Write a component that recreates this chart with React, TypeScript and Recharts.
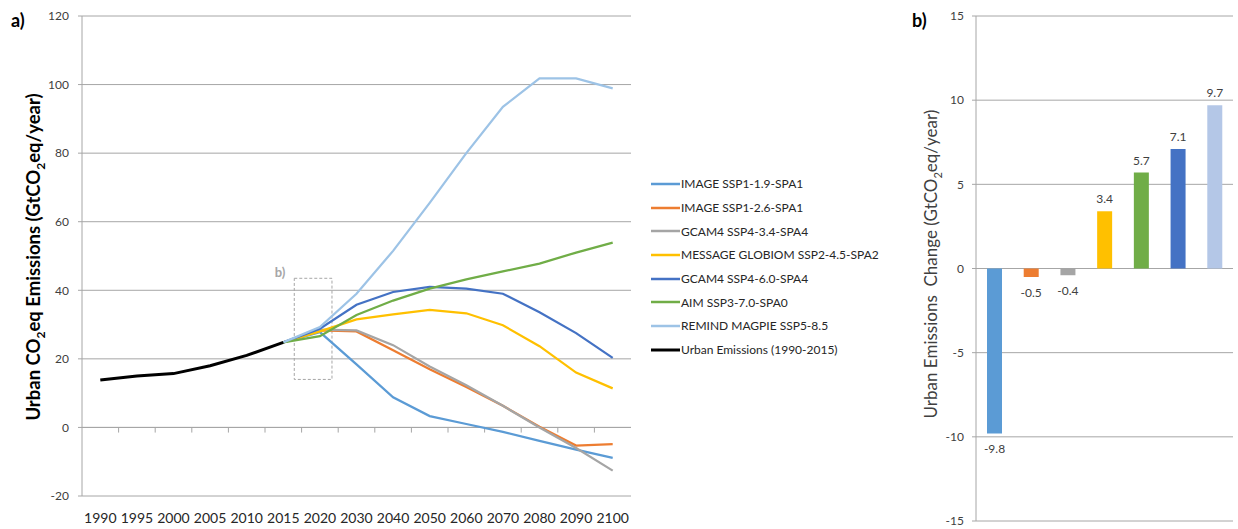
import React from "react";
import {
  LineChart,
  Line,
  BarChart,
  Bar,
  Cell,
  LabelList,
  XAxis,
  YAxis,
  CartesianGrid,
  ReferenceLine,
  ReferenceArea,
} from "recharts";

// ---- panel a: urban emissions pathways (GtCO2eq/year) ----
const years = [
  "1990", "1995", "2000", "2005", "2010", "2015", "2020",
  "2030", "2040", "2050", "2060", "2070", "2080", "2090", "2100",
];
const urbanHistory = [13.8, 15.0, 15.7, 18.0, 21.0, 24.8, null, null, null, null, null, null, null, null, null];
const ssp119 = [null, null, null, null, null, 24.8, 27.8, 18.4, 8.8, 3.3, 1.0, -1.3, -3.9, -6.5, -8.9];
const ssp126 = [null, null, null, null, null, 24.8, 28.3, 28.0, 22.5, 17.0, 11.8, 6.3, 0.2, -5.3, -4.9];
const ssp434 = [null, null, null, null, null, 24.8, 28.5, 28.3, 24.0, 17.8, 12.3, 6.3, 0.0, -6.0, -12.6];
const ssp245 = [null, null, null, null, null, 24.8, 28.0, 31.5, 33.0, 34.3, 33.3, 29.8, 23.7, 16.0, 11.4];
const ssp460 = [null, null, null, null, null, 24.8, 28.8, 35.8, 39.5, 41.0, 40.5, 39.0, 33.6, 27.5, 20.3];
const ssp370 = [null, null, null, null, null, 24.8, 26.6, 32.8, 37.0, 40.5, 43.2, 45.5, 47.8, 51.0, 53.9];
const ssp585 = [null, null, null, null, null, 24.8, 29.3, 39.0, 51.5, 65.5, 80.0, 93.5, 101.8, 101.8, 98.9];

const scenarioNames = [
  "IMAGE SSP1-1.9-SPA1",
  "IMAGE SSP1-2.6-SPA1",
  "GCAM4 SSP4-3.4-SPA4",
  "MESSAGE GLOBIOM SSP2-4.5-SPA2",
  "GCAM4 SSP4-6.0-SPA4",
  "AIM SSP3-7.0-SPA0",
  "REMIND MAGPIE SSP5-8.5",
];
const historyName = "Urban Emissions (1990-2015)";
const emissionTicks = [-20, 0, 20, 40, 60, 80, 100, 120];

// ---- panel b: change in urban emissions ----
const changeScenarios = ["SSP1-1.9", "SSP1-2.6", "SSP4-3.4", "SSP2-4.5", "SSP3-7.0", "SSP4-6.0", "SSP5-8.5"];
const changeValues = [-9.8, -0.5, -0.4, 3.4, 5.7, 7.1, 9.7];
const changeTicks = [-15, -10, -5, 0, 5, 10, 15];

const FONT = "Lato, 'Open Sans', sans-serif";
const GRID = "#a6a6a6";
const EDGE = "#d0d0d0";
const TICK_TEXT = "#404040";

const scenarios = [
  { key: "ssp119", name: scenarioNames[0], color: "#5B9BD5", values: ssp119 },
  { key: "ssp126", name: scenarioNames[1], color: "#ED7D31", values: ssp126 },
  { key: "ssp434", name: scenarioNames[2], color: "#A5A5A5", values: ssp434 },
  { key: "ssp245", name: scenarioNames[3], color: "#FFC000", values: ssp245 },
  { key: "ssp460", name: scenarioNames[4], color: "#4472C4", values: ssp460 },
  { key: "ssp370", name: scenarioNames[5], color: "#70AD47", values: ssp370 },
  { key: "ssp585", name: scenarioNames[6], color: "#9DC3E6", values: ssp585 },
];

const lineRows = years.map((year, i) => {
  const row: Record<string, any> = { idx: i, year, history: urbanHistory[i] };
  scenarios.forEach((s) => (row[s.key] = s.values[i]));
  return row;
});

const barColors = ["#5B9BD5", "#ED7D31", "#A5A5A5", "#FFC000", "#70AD47", "#4472C4", "#B4C7E7"];
const barRows = changeScenarios.map((scenario, i) => ({
  scenario,
  change: changeValues[i],
  color: barColors[i],
}));

const yearIdx = years.map((_, i) => i);
// category boundaries where the little marks sit on the zero line
const boundaries = years.slice(1).map((_, i) => i + 0.5);

function RotatedTitle({ x, y, bold, size, color, children }: any) {
  return (
    <div
      style={{
        position: "absolute",
        left: x,
        top: y,
        transform: "translate(-50%, -50%) rotate(-90deg)",
        whiteSpace: "nowrap",
        fontFamily: FONT,
        fontSize: size,
        fontWeight: bold ? 700 : 400,
        color,
      }}
    >
      {children}
    </div>
  );
}

function BarValueLabel(props: any) {
  const { x, y, width, height, value } = props;
  const v = Number(value);
  const top = Math.min(Number(y), Number(y) + Number(height));
  const bottom = Math.max(Number(y), Number(y) + Number(height));
  return (
    <text
      x={Number(x) + Number(width) / 2}
      y={v >= 0 ? top - 8 : bottom + 20}
      textAnchor="middle"
      fontSize={12}
      fontFamily={FONT}
      fill="#404040"
    >
      {v.toFixed(1)}
    </text>
  );
}

function Legend() {
  const items = [
    ...scenarios.map((s) => ({ name: s.name, color: s.color, w: 2.5 })),
    { name: historyName, color: "#000000", w: 3 },
  ];
  return (
    <div style={{ position: "absolute", left: 651, top: 172, fontFamily: FONT }}>
      {items.map((it) => (
        <div key={it.name} style={{ display: "flex", alignItems: "center", height: 23.7 }}>
          <svg width={29} height={6} style={{ display: "block" }}>
            <line x1={0} x2={29} y1={3} y2={3} stroke={it.color} strokeWidth={it.w} />
          </svg>
          <span style={{ fontSize: 12, color: "#262626", marginLeft: 1 }}>{it.name}</span>
        </div>
      ))}
    </div>
  );
}

function PathwaysChart() {
  return (
    <LineChart
      width={640}
      height={529}
      data={lineRows}
      margin={{ top: 16, right: 9, bottom: 0, left: 0 }}
    >
      <CartesianGrid vertical={false} stroke={GRID} yAxisId="v" />
      <XAxis
        type="number"
        dataKey="idx"
        domain={[-0.5, 14.5]}
        ticks={yearIdx}
        interval={0}
        tickFormatter={(i: number) => years[i] ?? ""}
        height={33}
        axisLine={false}
        tickLine={false}
        tickSize={6}
        tickMargin={11}
        tick={{ fontSize: 14, fill: "#262626", fontFamily: FONT }}
      />
      <YAxis
        yAxisId="v"
        domain={[-20, 120]}
        ticks={emissionTicks}
        interval={0}
        width={82}
        tickSize={4}
        tickMargin={9}
        axisLine={{ stroke: GRID }}
        tickLine={{ stroke: GRID }}
        tick={{ fontSize: 12, fill: TICK_TEXT, fontFamily: FONT }}
      />
      <YAxis
        yAxisId="edge"
        orientation="right"
        domain={[-20, 120]}
        width={0}
        tick={false}
        tickLine={false}
        axisLine={{ stroke: EDGE }}
      />
      <ReferenceLine yAxisId="v" y={0} stroke={GRID} />
      {boundaries.map((b) => (
        <ReferenceLine
          key={b}
          yAxisId="v"
          segment={[
            { x: b, y: 0 },
            { x: b, y: -1.5 },
          ]}
          stroke={GRID}
        />
      ))}
      <ReferenceArea
        yAxisId="v"
        x1={5.3}
        x2={6.33}
        y1={14}
        y2={43.5}
        fill="none"
        stroke="#a6a6a6"
        strokeDasharray="3 2"
        label={(p: any) => (
          <text
            x={p.viewBox.x - 9}
            y={p.viewBox.y - 1}
            textAnchor="end"
            fontSize={13}
            fontWeight={700}
            fontFamily={FONT}
            fill="#a6a6a6"
          >
            b)
          </text>
        )}
      />
      {scenarios.map((s) => (
        <Line
          key={s.key}
          yAxisId="v"
          type="linear"
          dataKey={s.key}
          name={s.name}
          stroke={s.color}
          strokeWidth={2.25}
          dot={false}
          isAnimationActive={false}
        />
      ))}
      <Line
        yAxisId="v"
        type="linear"
        dataKey="history"
        name={historyName}
        stroke="#000000"
        strokeWidth={3}
        dot={false}
        isAnimationActive={false}
      />
    </LineChart>
  );
}

function ChangeChart() {
  return (
    <BarChart
      width={338}
      height={529}
      data={barRows}
      margin={{ top: 16, right: 5, bottom: 8, left: 0 }}
      barSize={15}
    >
      <CartesianGrid vertical={false} stroke={GRID} yAxisId="v" />
      <XAxis dataKey="scenario" hide />
      <YAxis
        yAxisId="v"
        domain={[-15, 15]}
        ticks={changeTicks}
        interval={0}
        width={76}
        tickSize={4}
        tickMargin={8}
        axisLine={{ stroke: GRID }}
        tickLine={{ stroke: GRID }}
        tick={{ fontSize: 12, fill: TICK_TEXT, fontFamily: FONT }}
      />
      <YAxis
        yAxisId="edge"
        orientation="right"
        domain={[-15, 15]}
        width={0}
        tick={false}
        tickLine={false}
        axisLine={{ stroke: EDGE }}
      />
      <Bar yAxisId="v" dataKey="change" isAnimationActive={false}>
        {barRows.map((r) => (
          <Cell key={r.scenario} fill={r.color} />
        ))}
        <LabelList dataKey="change" content={BarValueLabel} />
      </Bar>
    </BarChart>
  );
}

export default function App() {
  return (
    <div
      style={{
        position: "absolute",
        left: 0,
        top: 0,
        width: 1238,
        height: 529,
        background: "#ffffff",
        overflow: "hidden",
        fontFamily: FONT,
      }}
    >
      <div style={{ position: "absolute", left: 0, top: 0 }}>
        <PathwaysChart />
      </div>
      <div style={{ position: "absolute", left: 900, top: 0 }}>
        <ChangeChart />
      </div>
      <Legend />

      <div style={{ position: "absolute", left: 11, top: 9, fontSize: 18, fontWeight: 700, color: "#000" }}>a)</div>
      <div style={{ position: "absolute", left: 912, top: 9, fontSize: 18, fontWeight: 700, color: "#000" }}>b)</div>

      <RotatedTitle x={35} y={257} bold size={18.5} color="#000">
        Urban CO<sub style={{ fontSize: "0.65em" }}>2</sub>eq Emissions (GtCO<sub style={{ fontSize: "0.65em" }}>2</sub>eq/year)
      </RotatedTitle>
      <RotatedTitle x={932} y={264} size={17} color="#404040">
        Urban Emissions&nbsp; Change (GtCO<sub style={{ fontSize: "0.65em" }}>2</sub>eq/year)
      </RotatedTitle>
    </div>
  );
}
